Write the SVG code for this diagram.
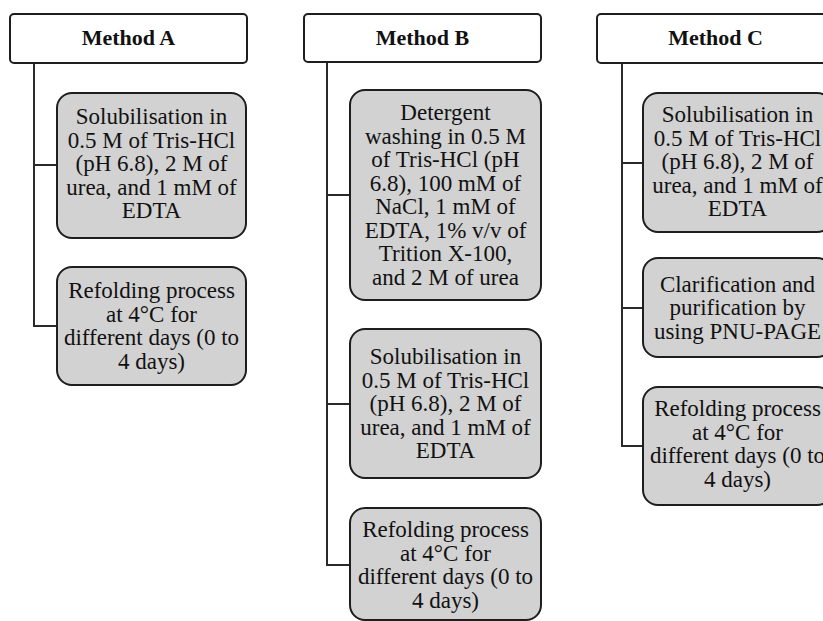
<svg xmlns="http://www.w3.org/2000/svg" width="823" height="621" viewBox="0 0 823 621">
<style>
.bg{fill:#ffffff}
.hdr{fill:#ffffff;stroke:#1e1e1e;stroke-width:2}
.box{fill:#d2d2d2;stroke:#1e1e1e;stroke-width:2}
.ht{font-family:"Liberation Serif","Times New Roman",serif;font-weight:bold;font-size:22px;fill:#111;text-anchor:middle}
.bt{font-family:"Liberation Serif","Times New Roman",serif;font-size:23px;fill:#111;text-anchor:middle}
.conn{fill:none;stroke:#2a2a2a;stroke-width:2}
</style>
<rect class="bg" x="0" y="0" width="823" height="621"/>
<g id="connectors">
<path class="conn" d="M34,63 V326 H57 M34,165 H57"/>
<path class="conn" d="M327,62 V565 H350 M327,195 H350 M327,404 H350"/>
<path class="conn" d="M622,63 V446 H643 M622,163 H643 M622,308 H643"/>
</g>
<g id="methodA">
<rect class="hdr" x="10" y="14" width="237" height="49" rx="4"/>
<text class="ht" x="128.5" y="45">Method A</text>
</g>
<g id="a1">
<rect class="box" x="57" y="93" width="189" height="145" rx="15"/>
<text class="bt"><tspan x="151.5" y="124">Solubilisation in</tspan><tspan x="151.5" y="147.5">0.5 M of Tris-HCl</tspan><tspan x="151.5" y="171">(pH 6.8), 2 M of</tspan><tspan x="151.5" y="194.5">urea, and 1 mM of</tspan><tspan x="151.5" y="218">EDTA</tspan></text>
</g>
<g id="a2">
<rect class="box" x="57" y="267" width="189" height="118" rx="15"/>
<text class="bt"><tspan x="151.5" y="298">Refolding process</tspan><tspan x="151.5" y="321.5">at 4°C for</tspan><tspan x="151.5" y="345">different days (0 to</tspan><tspan x="151.5" y="368.5">4 days)</tspan></text>
</g>
<g id="methodB">
<rect class="hdr" x="304" y="14" width="237" height="48" rx="4"/>
<text class="ht" x="422.5" y="45">Method B</text>
</g>
<g id="b1">
<rect class="box" x="350" y="90" width="191" height="210" rx="15"/>
<text class="bt"><tspan x="445.5" y="120">Detergent</tspan><tspan x="445.5" y="143.5">washing in 0.5 M</tspan><tspan x="445.5" y="167">of Tris-HCl (pH</tspan><tspan x="445.5" y="190.5">6.8), 100 mM of</tspan><tspan x="445.5" y="214">NaCl, 1 mM of</tspan><tspan x="445.5" y="237.5">EDTA, 1% v/v of</tspan><tspan x="445.5" y="261">Trition X-100,</tspan><tspan x="445.5" y="284.5">and 2 M of urea</tspan></text>
</g>
<g id="b2">
<rect class="box" x="350" y="329" width="191" height="149" rx="15"/>
<text class="bt"><tspan x="445.5" y="364">Solubilisation in</tspan><tspan x="445.5" y="387.5">0.5 M of Tris-HCl</tspan><tspan x="445.5" y="411">(pH 6.8), 2 M of</tspan><tspan x="445.5" y="434.5">urea, and 1 mM of</tspan><tspan x="445.5" y="458">EDTA</tspan></text>
</g>
<g id="b3">
<rect class="box" x="350" y="508" width="191" height="112" rx="15"/>
<text class="bt"><tspan x="445.5" y="537">Refolding process</tspan><tspan x="445.5" y="560.5">at 4°C for</tspan><tspan x="445.5" y="584">different days (0 to</tspan><tspan x="445.5" y="607.5">4 days)</tspan></text>
</g>
<g id="methodC">
<rect class="hdr" x="597" y="14" width="237" height="49" rx="4"/>
<text class="ht" x="715.5" y="45">Method C</text>
</g>
<g id="c1">
<rect class="box" x="643" y="93" width="189" height="139" rx="15"/>
<text class="bt"><tspan x="737.5" y="122">Solubilisation in</tspan><tspan x="737.5" y="145.5">0.5 M of Tris-HCl</tspan><tspan x="737.5" y="169">(pH 6.8), 2 M of</tspan><tspan x="737.5" y="192.5">urea, and 1 mM of</tspan><tspan x="737.5" y="216">EDTA</tspan></text>
</g>
<g id="c2">
<rect class="box" x="643" y="258" width="189" height="99" rx="15"/>
<text class="bt"><tspan x="737.5" y="291.5">Clarification and</tspan><tspan x="737.5" y="315">purification by</tspan><tspan x="737.5" y="338.5">using PNU-PAGE</tspan></text>
</g>
<g id="c3">
<rect class="box" x="643" y="387" width="189" height="118" rx="15"/>
<text class="bt"><tspan x="737.5" y="416">Refolding process</tspan><tspan x="737.5" y="439.5">at 4°C for</tspan><tspan x="737.5" y="463">different days (0 to</tspan><tspan x="737.5" y="486.5">4 days)</tspan></text>
</g>
</svg>
